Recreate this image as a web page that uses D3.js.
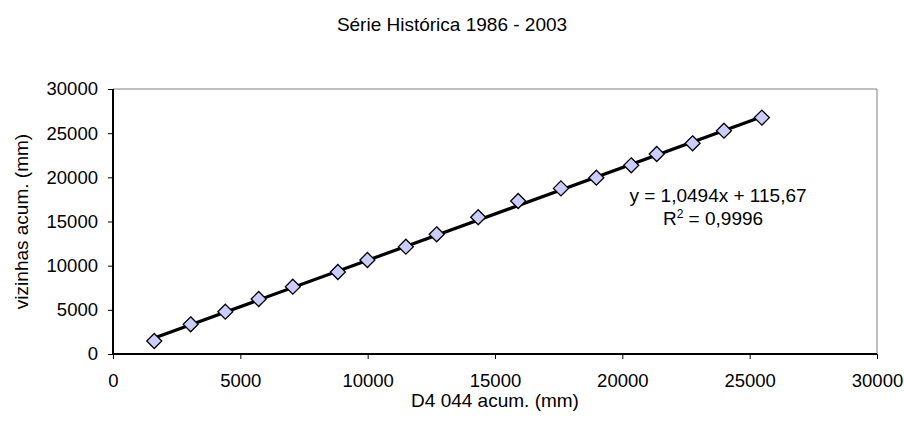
<!DOCTYPE html>
<html>
<head>
<meta charset="utf-8">
<script src="https://cdn.jsdelivr.net/npm/d3@7"></script>
<style>
  html, body { margin: 0; padding: 0; background: #fff; }
  svg { display: block; font-family: "Liberation Sans", Arial, sans-serif; }
</style>
</head>
<body>
<svg id="chart" width="904" height="430"></svg>
<script>
// Data
const xValues = [1620, 3050, 4410, 5720, 7060, 8830, 9990, 11500, 12710, 14340, 15910, 17590, 18980, 20350, 21350, 22760, 23990, 25480];
const yValues = [1470, 3360, 4790, 6230, 7620, 9280, 10640, 12150, 13550, 15480, 17320, 18750, 19960, 21360, 22640, 23850, 25280, 26760];
const xTicks = [0, 5000, 10000, 15000, 20000, 25000, 30000];
const yTicks = [0, 5000, 10000, 15000, 20000, 25000, 30000];
const trendSlope = 1.0494;
const trendIntercept = 115.67;
const title = "Série Histórica 1986 - 2003";
const xTitle = "D4 044 acum. (mm)";
const yTitle = "vizinhas acum. (mm)";
const eqText = "y = 1,0494x + 115,67";
const r2Value = "0,9996";

(function () {
const svg = d3.select("#chart");
const pL = 113, pR = 877, pT = 89, pB = 354;
const fs = 19;
const tfs = 18.5;

const x = d3.scaleLinear().domain([0, 30000]).range([pL, pR]);
const y = d3.scaleLinear().domain([0, 30000]).range([pB, pT]);

// plot border (top & right gray)
svg.append("path")
  .attr("d", `M${pL},${pT}H${pR}V${pB}`)
  .attr("fill", "none").attr("stroke", "#808080").attr("stroke-width", 1);

// axes
const xAxis = svg.append("g").attr("transform", `translate(0,${pB})`)
  .call(d3.axisBottom(x).tickValues(xTicks).tickFormat(d3.format("d")).tickSize(5).tickPadding(14.5));
const yAxis = svg.append("g").attr("transform", `translate(${pL},0)`)
  .call(d3.axisLeft(y).tickValues(yTicks).tickFormat(d3.format("d")).tickSize(5).tickPadding(10));
[xAxis, yAxis].forEach(g => {
  g.select(".domain").attr("stroke", "#000").attr("stroke-width", 2);
  g.selectAll(".tick line").attr("stroke", "#000").attr("stroke-width", 1);
  g.selectAll(".tick text").attr("font-size", tfs).attr("font-family", "Liberation Sans, Arial, sans-serif").attr("fill", "#000");
});
xAxis.select(".domain").attr("d", `M${pL},0H${pR}`);
yAxis.select(".domain").attr("d", `M0,${pB}V${pT}`);

// trendline
const xmin = d3.min(xValues), xmax = d3.max(xValues);
svg.append("line")
  .attr("x1", x(xmin)).attr("y1", y(trendSlope * xmin + trendIntercept))
  .attr("x2", x(xmax)).attr("y2", y(trendSlope * xmax + trendIntercept))
  .attr("stroke", "#000").attr("stroke-width", 3.2);

// markers
const r = 7.5;
svg.append("g").selectAll("path").data(xValues.map((d, i) => [d, yValues[i]])).join("path")
  .attr("d", d => `M${x(d[0])},${y(d[1]) - r}L${x(d[0]) + r},${y(d[1])}L${x(d[0])},${y(d[1]) + r}L${x(d[0]) - r},${y(d[1])}Z`)
  .attr("fill", "#ccccff").attr("stroke", "#000").attr("stroke-width", 1.3);

// titles
svg.append("text").attr("x", 452).attr("y", 31).attr("text-anchor", "middle")
  .attr("font-size", fs).text(title);
svg.append("text").attr("x", (pL + pR) / 2).attr("y", 407).attr("text-anchor", "middle")
  .attr("font-size", fs).text(xTitle);
svg.append("text").attr("transform", `translate(28,${(pT + pB) / 2}) rotate(-90)`)
  .attr("text-anchor", "middle").attr("font-size", fs).text(yTitle);

// equation
svg.append("text").attr("x", 718).attr("y", 202).attr("text-anchor", "middle")
  .attr("font-size", fs).text(eqText);
const r2 = svg.append("text").attr("x", 713).attr("y", 225).attr("text-anchor", "middle").attr("font-size", fs);
r2.append("tspan").text("R");
r2.append("tspan").attr("font-size", 12).attr("dy", -7).text("2");
r2.append("tspan").attr("dy", 7).text(" = " + r2Value);
})();
</script>
</body>
</html>
